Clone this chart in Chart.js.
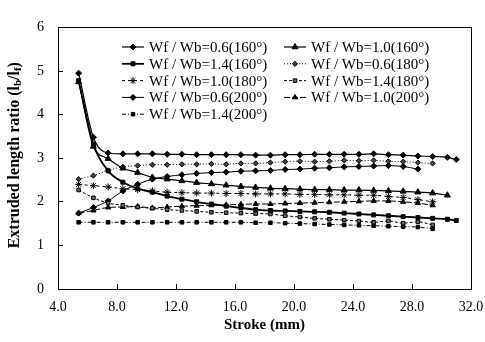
<!DOCTYPE html>
<html>
<head>
<meta charset="utf-8">
<script src="https://cdn.jsdelivr.net/npm/chart.js"></script>
<style>
  html, body { margin: 0; padding: 0; background: #fff; }
</style>
</head>
<body>
<canvas id="chart" width="485" height="342"></canvas>
<script>
// stroke positions (mm) where the points were recorded
const stroke = [5.4, 6.4, 7.4, 8.4, 9.4, 10.4, 11.4, 12.4, 13.4, 14.4, 15.4, 16.4, 17.4, 18.4,
  19.4, 20.4, 21.4, 22.4, 23.4, 24.4, 25.4, 26.4, 27.4, 28.4, 29.4, 30.4, 31.0];

// extruded length ratio lb/lf for each Wf/Wb and angle
const r06_160 = [4.95, 3.48, 3.12, 3.10, 3.10, 3.10, 3.09, 3.09, 3.08, 3.08, 3.08, 3.08, 3.07, 3.07,
  3.08, 3.08, 3.09, 3.09, 3.09, 3.09, 3.10, 3.08, 3.07, 3.05, 3.04, 3.02, 2.97];
const r10_160 = [4.75, 3.27, 2.99, 2.77, 2.67, 2.56, 2.52, 2.48, 2.44, 2.41, 2.38, 2.35, 2.33, 2.31,
  2.30, 2.29, 2.28, 2.28, 2.27, 2.27, 2.26, 2.25, 2.24, 2.22, 2.20, 2.15];
const r14_160 = [4.78, 3.32, 2.71, 2.45, 2.30, 2.22, 2.13, 2.06, 2.00, 1.95, 1.90, 1.86, 1.82, 1.80,
  1.79, 1.78, 1.77, 1.76, 1.74, 1.72, 1.70, 1.68, 1.66, 1.64, 1.62, 1.60, 1.57];
const r06_180 = [2.52, 2.60, 2.72, 2.80, 2.83, 2.85, 2.85, 2.86, 2.86, 2.87, 2.86, 2.88, 2.88, 2.90,
  2.92, 2.93, 2.92, 2.93, 2.95, 2.94, 2.95, 2.93, 2.92, 2.90, 2.88];
const r10_180 = [2.40, 2.37, 2.34, 2.30, 2.28, 2.25, 2.22, 2.21, 2.20, 2.20, 2.19, 2.19, 2.18, 2.18,
  2.18, 2.17, 2.17, 2.16, 2.16, 2.15, 2.15, 2.12, 2.10, 2.05, 2.00];
const r14_180 = [2.27, 2.09, 1.97, 1.92, 1.88, 1.85, 1.82, 1.80, 1.78, 1.76, 1.75, 1.74, 1.73, 1.72,
  1.68, 1.65, 1.62, 1.60, 1.58, 1.56, 1.53, 1.56, 1.51, 1.54, 1.47];
const r06_200 = [1.74, 1.87, 2.02, 2.25, 2.40, 2.52, 2.58, 2.62, 2.65, 2.67, 2.68, 2.70, 2.71, 2.72,
  2.74, 2.75, 2.77, 2.78, 2.80, 2.81, 2.82, 2.83, 2.81, 2.75];
const r10_200 = [1.74, 1.80, 1.87, 1.88, 1.89, 1.86, 1.88, 1.90, 1.91, 1.92, 1.93, 1.94, 1.95, 1.95,
  1.96, 1.97, 1.98, 1.99, 2.00, 2.01, 2.02, 2.02, 2.00, 1.97, 1.92];
const r14_200 = [1.53, 1.53, 1.53, 1.53, 1.53, 1.53, 1.53, 1.53, 1.53, 1.53, 1.53, 1.53, 1.52, 1.52,
  1.51, 1.50, 1.49, 1.48, 1.47, 1.46, 1.45, 1.44, 1.43, 1.42, 1.38];

const serif = '"Liberation Serif", "DejaVu Serif", serif';

// pair a series with the stroke positions
const pts = (vals) => vals.map((v, i) => ({ x: stroke[i], y: v }));

const mk = (label, vals, style, radius, dash, width, fill) => ({
  label: label,
  data: pts(vals),
  borderColor: '#000',
  backgroundColor: fill || '#000',
  borderWidth: width,
  borderDash: dash,
  pointStyle: style,
  pointRadius: radius,
  pointBorderWidth: 1,
  pointBorderColor: '#000',
  pointBackgroundColor: fill || '#000',
  cubicInterpolationMode: 'monotone',
  fill: false,
});

const datasets = [
  mk('Wf / Wb=0.6(160°)', r06_160, 'rectRot', 3, [], 1.2),
  mk('Wf / Wb=1.0(160°)', r10_160, 'triangle', 3.5, [], 1.2),
  mk('Wf / Wb=1.4(160°)', r14_160, 'rect', 2.8, [], 1.8),
  mk('Wf / Wb=0.6(180°)', r06_180, 'rectRot', 2.6, [1, 2], 1, '#444'),
  mk('Wf / Wb=1.4(180°)', r14_180, 'rect', 2.5, [3, 2], 1, '#666'),
  mk('Wf / Wb=1.0(180°)', r10_180, 'star', 3.5, [3, 3], 1),
  mk('Wf / Wb=0.6(200°)', r06_200, 'rectRot', 3, [], 1),
  mk('Wf / Wb=1.0(200°)', r10_200, 'triangle', 3, [6, 2], 1),
  mk('Wf / Wb=1.4(200°)', r14_200, 'rect', 2.5, [4, 2, 1, 2], 1),
];

// legend order as in the figure, two per row
const legendOrder = [0, 1, 2, 3, 5, 4, 6, 7, 8];

const figurePlugin = {
  id: 'figure',
  afterDraw(chart) {
    const ctx = chart.ctx;
    const a = chart.chartArea;
    ctx.save();
    // frame round the plot
    ctx.strokeStyle = '#000';
    ctx.lineWidth = 1;
    ctx.setLineDash([]);
    ctx.strokeRect(Math.round(a.left) + 0.5, Math.round(a.top) + 0.5,
      Math.round(a.right - a.left), Math.round(a.bottom - a.top));

    // y title with subscripts
    ctx.fillStyle = '#000';
    ctx.translate(15, (a.top + a.bottom) / 2 - 3);
    ctx.rotate(-Math.PI / 2);
    const big = 'bold 16px ' + serif;
    const small = 'bold 11px ' + serif;
    const parts = [
      ['Extruded length ratio (l', big, 0],
      ['b', small, 3],
      ['/l', big, 0],
      ['f', small, 3],
      [')', big, 0],
    ];
    let total = 0;
    parts.forEach(p => { ctx.font = p[1]; total += ctx.measureText(p[0]).width; });
    let x = -total / 2;
    ctx.textBaseline = 'middle';
    ctx.textAlign = 'left';
    parts.forEach(p => {
      ctx.font = p[1];
      ctx.fillText(p[0], x, p[2]);
      x += ctx.measureText(p[0]).width;
    });
    ctx.restore();

    // legend
    ctx.save();
    ctx.font = '15px ' + serif;
    ctx.textBaseline = 'middle';
    ctx.fillStyle = '#000';
    legendOrder.forEach((di, k) => {
      const ds = chart.data.datasets[di];
      const col = k % 2, row = Math.floor(k / 2);
      const x0 = col === 0 ? 122 : 284;
      const y0 = 47 + row * 16.8;
      ctx.strokeStyle = '#000';
      ctx.lineWidth = ds.borderWidth;
      ctx.setLineDash(ds.borderDash);
      ctx.beginPath();
      ctx.moveTo(x0, y0);
      ctx.lineTo(x0 + 22, y0);
      ctx.stroke();
      ctx.setLineDash([]);
      ctx.lineWidth = 1;
      ctx.fillStyle = ds.pointBackgroundColor;
      Chart.helpers.drawPoint(ctx, {
        pointStyle: ds.pointStyle, radius: ds.pointRadius, rotation: 0, borderWidth: 1,
      }, x0 + 11, y0);
      ctx.fillStyle = '#000';
      ctx.fillText(ds.label, x0 + 27, y0 + 1);
    });
    ctx.restore();
  },
};

new Chart(document.getElementById('chart'), {
  type: 'line',
  data: { datasets: datasets },
  plugins: [figurePlugin],
  options: {
    responsive: false,
    animation: false,
    devicePixelRatio: 1,
    layout: { padding: { top: 10, right: 0, left: 0, bottom: 0 } },
    plugins: { legend: { display: false }, tooltip: { enabled: false } },
    scales: {
      x: {
        type: 'linear',
        min: 4,
        max: 32,
        afterFit: (s) => { s.height = 53; s.paddingRight = 14; },
        ticks: {
          stepSize: 4,
          padding: 15,
          color: '#000',
          font: { family: serif, size: 14 },
          callback: (v) => v.toFixed(1),
        },
        grid: { drawOnChartArea: false, tickLength: -5, color: '#000' },
        border: { color: '#000' },
        title: {
          display: true,
          text: 'Stroke (mm)',
          color: '#000',
          font: { family: serif, size: 15, weight: 'bold' },
          padding: { top: 0, bottom: 8 },
        },
      },
      y: {
        min: 0,
        max: 6,
        afterFit: (s) => { s.width = 58; },
        ticks: {
          stepSize: 1,
          padding: 19,
          color: '#000',
          font: { family: serif, size: 14 },
        },
        grid: { drawOnChartArea: false, tickLength: -5, color: '#000' },
        border: { color: '#000' },
      },
    },
  },
});
</script>
</body>
</html>
